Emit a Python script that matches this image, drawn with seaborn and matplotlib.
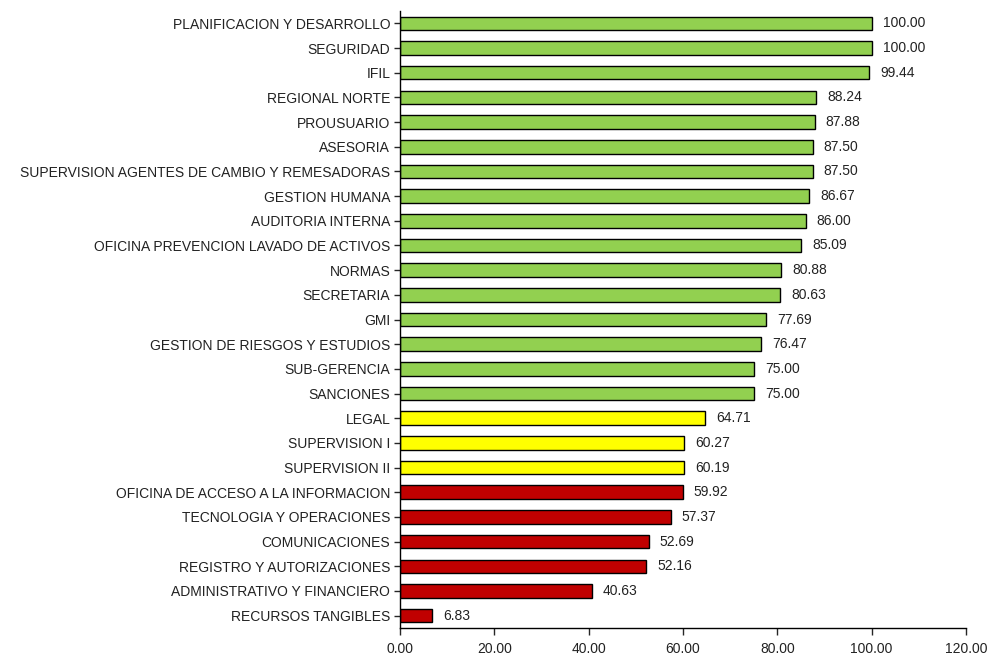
import matplotlib
matplotlib.use("Agg")
import matplotlib.pyplot as plt
import seaborn as sns
import pandas as pd
from matplotlib import font_manager

categories = [
    "PLANIFICACION Y DESARROLLO", "SEGURIDAD", "IFIL", "REGIONAL NORTE", "PROUSUARIO",
    "ASESORIA", "SUPERVISION AGENTES DE CAMBIO Y REMESADORAS", "GESTION HUMANA",
    "AUDITORIA INTERNA", "OFICINA PREVENCION LAVADO DE ACTIVOS", "NORMAS", "SECRETARIA",
    "GMI", "GESTION DE RIESGOS Y ESTUDIOS", "SUB-GERENCIA", "SANCIONES", "LEGAL",
    "SUPERVISION I", "SUPERVISION II", "OFICINA DE ACCESO A LA INFORMACION",
    "TECNOLOGIA Y OPERACIONES", "COMUNICACIONES", "REGISTRO Y AUTORIZACIONES",
    "ADMINISTRATIVO Y FINANCIERO", "RECURSOS TANGIBLES",
]
values = [100.00, 100.00, 99.44, 88.24, 87.88, 87.50, 87.50, 86.67, 86.00, 85.09,
          80.88, 80.63, 77.69, 76.47, 75.00, 75.00, 64.71, 60.27, 60.19, 59.92,
          57.37, 52.69, 52.16, 40.63, 6.83]
levels = ["alto"] * 16 + ["medio"] * 3 + ["bajo"] * 6
palette = {"alto": "#92D050", "medio": "#FFFF00", "bajo": "#C00000"}
x_ticks = [0, 20, 40, 60, 80, 100, 120]

sns.set_style("white")
names = {f.name for f in font_manager.fontManager.ttflist}
fam = "Liberation Sans Narrow" if "Liberation Sans Narrow" in names else "Liberation Sans"
plt.rcParams["font.family"] = [fam, "DejaVu Sans"]

df = pd.DataFrame({"cat": categories, "val": values, "lvl": levels})

fig = plt.figure(figsize=(9.93, 6.62), dpi=100)
ax = fig.add_axes([400 / 993, 1 - 628 / 662, 566 / 993, (628 - 11) / 662])
sns.barplot(data=df, x="val", y="cat", hue="lvl", palette=palette, dodge=False,
            saturation=1, width=0.55, edgecolor="black", linewidth=1.0,
            legend=False, ax=ax)

for c in ax.containers:
    labels = [f"{v:.2f}" if v == v else "" for v in c.datavalues]
    ax.bar_label(c, labels=labels, padding=8, fontsize=10, color="#222222")

ax.set_xlim(0, 120)
ax.set_ylim(len(categories) - 0.5, -0.5)
ax.set_xticks(x_ticks)
ax.set_xticklabels([f"{t:.2f}" for t in x_ticks], fontsize=10, color="#222222")
ax.tick_params(axis="y", labelsize=10, labelcolor="#222222", length=4, width=1,
               direction="out", left=True, pad=3)
ax.tick_params(axis="x", length=5, width=1, direction="out", bottom=True, pad=5)
ax.set_xlabel("")
ax.set_ylabel("")
for s in ["top", "right"]:
    ax.spines[s].set_visible(False)
for s in ["left", "bottom"]:
    ax.spines[s].set_color("black")
    ax.spines[s].set_linewidth(1.0)

fig.savefig("out.png", dpi=100)
